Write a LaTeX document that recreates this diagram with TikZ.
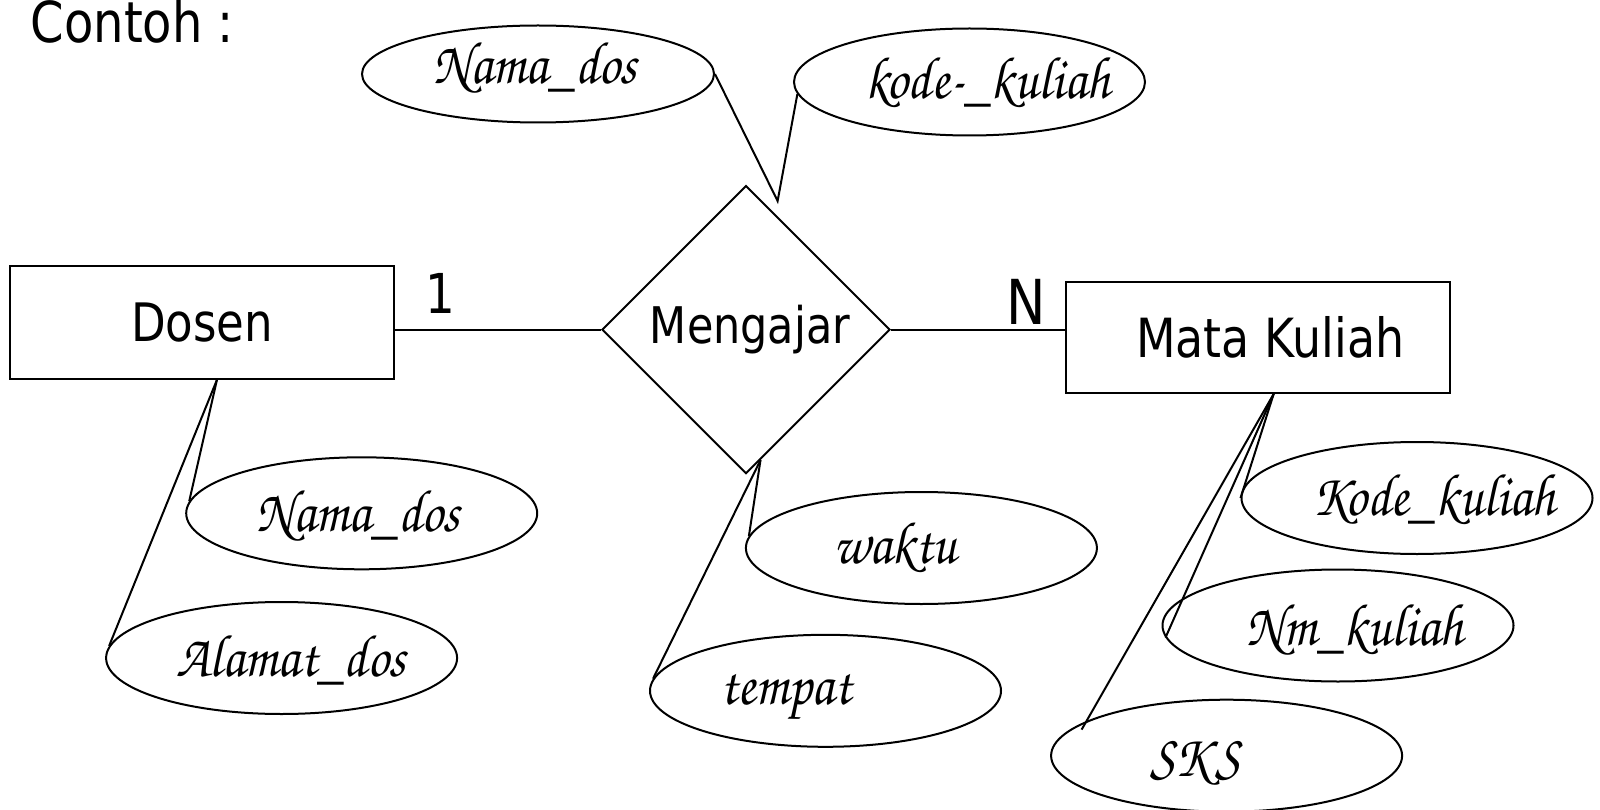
\documentclass[tikz,border=0pt]{standalone}
\usepackage{fontspec}
\setmainfont{DejaVu Sans}[FakeStretch=0.85]
\newfontfamily\chorus{texgyrechorus-mediumitalic.otf}[FakeStretch=0.89]
\usetikzlibrary{shapes.geometric,calc}
\tikzset{
  ent/.style={draw, line width=2pt, rectangle, inner sep=0pt},
  rel/.style={draw, line width=2pt, diamond, aspect=1, inner sep=0pt, minimum width=288pt, minimum height=288pt},
  attr/.style={draw, line width=2pt, ellipse, inner sep=0pt, minimum width=351pt, minimum height=112pt},
  atxt/.style={anchor=base, inner sep=0pt, font=\chorus\fontsize{60}{70}\selectfont},
  lnk/.style={line width=2pt},
  card/.style={anchor=base, inner sep=0pt},
}
\begin{document}
\begin{tikzpicture}[x=1pt,y=-1pt]
\useasboundingbox (0,0) rectangle (1600,810);

\node[anchor=base west, inner sep=0pt, font=\fontsize{56.5}{62}\selectfont] (contoh) at (30.5,43) {Contoh :};

% entities and relationship
\node[ent, minimum width=383.7pt, minimum height=112.3pt, font=\fontsize{53}{60}\selectfont] (dosen) at (202,322.5) {Dosen};
\node[ent, minimum width=383.7pt, minimum height=111.3pt, font=\fontsize{54}{60}\selectfont] (mk) at (1258.2,337.2) {\hspace*{24pt}Mata Kuliah};
\node[rel, font=\fontsize{50.5}{60}\selectfont] (m) at (746,329.6) {\hspace*{8pt}Mengajar};

\draw[lnk] (dosen.east |- m.west) -- (m.west);
\draw[lnk] (m.east) -- (m.east -| mk.west);
\node[card, font=\fontsize{55}{60}\selectfont] (one) at (440,313) {1};
\node[card, font=\fontsize{62}{70}\selectfont] (n) at (1026,324.5) {N};

% attributes
\node[attr, minimum width=352pt, minimum height=97pt] (nd1) at (538,74) {};
\node[attr, minimum height=107pt] (kode) at (969.5,82) {};
\node[attr] (nd2) at (361.7,513.3) {};
\node[attr] (alamat) at (281.6,658) {};
\node[attr] (waktu) at (921.4,548) {};
\node[attr] (tempat) at (825.5,690.8) {};
\node[attr] (kk) at (1417,498) {};
\node[attr] (nmk) at (1338,625.5) {};
\node[attr] (sks) at (1226.6,755.7) {};

\node[atxt] (tnd1) at (535,84) {Nama\_dos};
\node[atxt] (tkode) at (988,99) {kode-\_kuliah};
\node[atxt] (tnd2) at (358,531) {Nama\_dos};
\node[atxt] (talamat) at (291,676) {Alamat\_dos};
\node[atxt] (twaktu) at (895,563) {waktu};
\node[atxt] (ttempat) at (786,704) {tempat};
\node[atxt] (tkk) at (1434,515) {Kode\_kuliah};
\node[atxt] (tnmk) at (1355,645) {Nm\_kuliah};
\node[atxt] (tsks) at (1195,776) {SKS};

% attribute connectors
\coordinate (j1) at (777.6,201);
\draw[lnk] (nd1.east) -- (j1) -- (kode.184);

\coordinate (db) at ([xshift=15pt]dosen.south);
\draw[lnk] (db) -- (nd2.176);
\draw[lnk] (db) -- (alamat.176);

\coordinate (mb) at ($(m.south)!0.1!(m.east)$);
\draw[lnk] (mb) -- (waktu.176);
\draw[lnk] (mb) -- (tempat.176);

\coordinate (mkb) at ([xshift=15.5pt]mk.south);
\coordinate (sksend) at (1081.6,729.6);
\draw[lnk] (mkb) -- (kk.west);
\draw[lnk] (mkb) -- (nmk.184);
\draw[lnk] (mkb) -- (sksend);
\end{tikzpicture}
\end{document}
